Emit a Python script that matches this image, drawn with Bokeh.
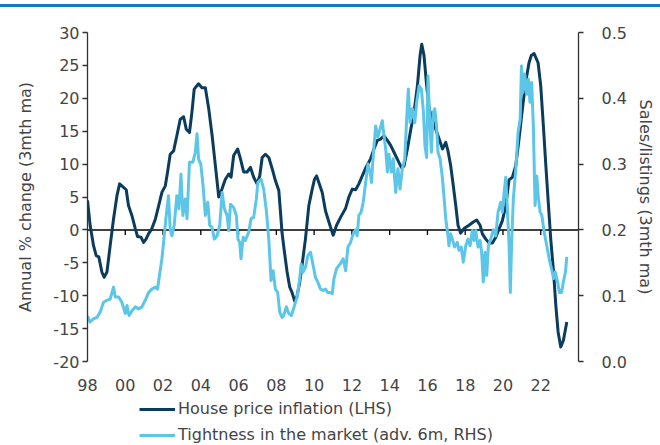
from bokeh.plotting import figure
from bokeh.models import (Range1d, LinearAxis, FixedTicker, Span, Legend,
                          LegendItem, Div)
from bokeh.layouts import column
from bokeh.embed import file_html
from bokeh.resources import INLINE

# ---------------- data ----------------
hpi_year = [1998.00, 1998.14, 1998.32, 1998.46, 1998.60, 1998.76, 1998.88, 1999.03, 1999.20, 1999.38,
            1999.56, 1999.70, 1999.82, 2000.05, 2000.17, 2000.35, 2000.53, 2000.65, 2000.83, 2000.97,
            2001.10, 2001.23, 2001.41, 2001.60, 2001.77, 2001.94, 2002.12, 2002.24, 2002.38, 2002.56,
            2002.73, 2002.91, 2003.09, 2003.23, 2003.40, 2003.53, 2003.65, 2003.88, 2004.06, 2004.24,
            2004.42, 2004.60, 2004.77, 2004.95, 2005.12, 2005.30, 2005.48, 2005.60, 2005.74, 2005.95,
            2006.10, 2006.27, 2006.45, 2006.63, 2006.80, 2006.98, 2007.12, 2007.25, 2007.42, 2007.60,
            2007.78, 2007.95, 2008.13, 2008.22, 2008.30, 2008.43, 2008.57, 2008.71, 2008.83, 2008.98,
            2009.10, 2009.24, 2009.36, 2009.54, 2009.72, 2009.90, 2010.02, 2010.13, 2010.25, 2010.43,
            2010.60, 2010.87, 2011.01, 2011.19, 2011.40, 2011.67, 2011.84, 2012.02, 2012.20, 2012.37,
            2012.55, 2012.73, 2012.99, 2013.17, 2013.35, 2013.52, 2013.70, 2013.88, 2014.06, 2014.23,
            2014.45, 2014.62, 2014.76, 2014.94, 2015.12, 2015.29, 2015.47, 2015.61, 2015.70, 2015.82,
            2015.96, 2016.09, 2016.27, 2016.44, 2016.62, 2016.80, 2016.97, 2017.09, 2017.23, 2017.37,
            2017.50, 2017.62, 2017.76, 2017.94, 2018.20, 2018.43, 2018.61, 2018.79, 2018.91, 2019.09,
            2019.27, 2019.44, 2019.62, 2019.80, 2019.97, 2020.15, 2020.32, 2020.50, 2020.68, 2020.85,
            2021.03, 2021.20, 2021.38, 2021.50, 2021.65, 2021.86, 2022.00, 2022.14, 2022.27, 2022.41,
            2022.53, 2022.68, 2022.80, 2022.92, 2023.06, 2023.20, 2023.38]
hpi_value = [4.5, 0.7, -2.4, -3.9, -4.1, -6.4, -7.2, -6.4, -2.4, 1.7,
             5.2, 7.0, 6.7, 6.1, 3.7, 2.2, 0.2, -1.0, -1.1, -1.9,
             -1.4, -0.6, 0.2, 1.7, 3.7, 5.7, 6.7, 8.8, 11.5, 12.0,
             14.3, 16.8, 17.2, 15.3, 14.8, 17.9, 21.4, 22.2, 21.6, 21.6,
             18.4, 14.3, 9.8, 5.0, 6.2, 7.7, 8.5, 8.0, 11.3, 12.3,
             10.8, 8.8, 8.8, 9.5, 8.0, 7.0, 8.2, 11.0, 11.5, 11.0,
             9.3, 7.5, 6.0, 2.7, -0.4, -3.4, -6.4, -8.7, -9.5, -10.9,
             -10.0, -7.9, -5.4, -1.4, 3.7, 6.2, 7.7, 8.2, 7.2, 5.7,
             2.9, 0.4, -0.8, 0.7, 1.9, 3.3, 5.0, 6.2, 6.1, 7.0,
             8.2, 9.4, 10.8, 12.3, 13.6, 13.8, 14.3, 13.6, 12.8, 11.8,
             10.5, 9.5, 9.7, 12.3, 15.3, 17.9, 21.9, 26.5, 28.2, 26.5,
             21.9, 18.4, 16.8, 15.3, 13.8, 12.3, 13.3, 12.0, 9.8, 6.7,
             3.7, 0.7, -0.5, 0.2, 0.7, 1.2, 1.5, 0.7, -0.6, -1.4,
             -2.0, -2.0, -1.1, 0.2, 1.4, 3.7, 7.6, 8.0, 9.8, 13.8,
             18.4, 22.4, 25.4, 26.5, 26.8, 25.4, 21.9, 15.8, 9.8, 3.7,
             -1.4, -6.4, -11.5, -15.5, -17.8, -16.8, -14.0]

tight_year = [1998.00, 1998.14, 1998.32, 1998.50, 1998.67, 1998.85, 1999.03, 1999.20, 1999.38, 1999.47,
              1999.65, 1999.82, 2000.00, 2000.09, 2000.20, 2000.38, 2000.53, 2000.70, 2000.88, 2001.06,
              2001.24, 2001.41, 2001.59, 2001.71, 2001.82, 2001.94, 2002.03, 2002.15, 2002.29, 2002.38,
              2002.47, 2002.59, 2002.73, 2002.84, 2002.95, 2003.05, 2003.18, 2003.27, 2003.40, 2003.58,
              2003.71, 2003.80, 2003.88, 2004.00, 2004.12, 2004.24, 2004.37, 2004.47, 2004.59, 2004.72,
              2004.86, 2005.00, 2005.13, 2005.25, 2005.39, 2005.48, 2005.57, 2005.74, 2005.88, 2005.97,
              2006.06, 2006.13, 2006.24, 2006.36, 2006.54, 2006.66, 2006.80, 2006.94, 2007.02, 2007.19,
              2007.33, 2007.48, 2007.60, 2007.72, 2007.83, 2007.95, 2008.07, 2008.18, 2008.30, 2008.39,
              2008.53, 2008.66, 2008.80, 2008.96, 2009.10, 2009.24, 2009.31, 2009.42, 2009.54, 2009.67,
              2009.81, 2009.95, 2010.07, 2010.19, 2010.34, 2010.48, 2010.60, 2010.72, 2010.83, 2010.96,
              2011.05, 2011.19, 2011.37, 2011.54, 2011.67, 2011.79, 2011.93, 2012.07, 2012.20, 2012.28,
              2012.37, 2012.49, 2012.60, 2012.73, 2012.85, 2012.96, 2013.04, 2013.13, 2013.26, 2013.38,
              2013.49, 2013.61, 2013.70, 2013.79, 2013.88, 2013.96, 2014.09, 2014.19, 2014.32, 2014.44,
              2014.55, 2014.67, 2014.80, 2014.90, 2014.99, 2015.08, 2015.20, 2015.33, 2015.43, 2015.56,
              2015.68, 2015.79, 2015.87, 2015.96, 2016.03, 2016.12, 2016.21, 2016.30, 2016.39, 2016.48,
              2016.56, 2016.67, 2016.79, 2016.88, 2016.97, 2017.09, 2017.14, 2017.23, 2017.32, 2017.44,
              2017.58, 2017.67, 2017.79, 2017.90, 2018.03, 2018.15, 2018.26, 2018.38, 2018.47, 2018.56,
              2018.68, 2018.79, 2018.87, 2018.96, 2019.05, 2019.14, 2019.23, 2019.35, 2019.49, 2019.62,
              2019.74, 2019.88, 2019.97, 2020.06, 2020.15, 2020.24, 2020.32, 2020.39, 2020.46, 2020.55,
              2020.68, 2020.80, 2020.91, 2020.98, 2021.06, 2021.15, 2021.26, 2021.35, 2021.43, 2021.52,
              2021.61, 2021.70, 2021.79, 2021.88, 2021.97, 2022.06, 2022.18, 2022.32, 2022.45, 2022.57,
              2022.68, 2022.77, 2022.89, 2022.99, 2023.10, 2023.20, 2023.31, 2023.38]
tight_value = [0.069, 0.060, 0.065, 0.067, 0.075, 0.090, 0.093, 0.095, 0.113, 0.098,
               0.098, 0.090, 0.073, 0.085, 0.070, 0.078, 0.083, 0.080, 0.083, 0.093,
               0.105, 0.110, 0.113, 0.110, 0.133, 0.156, 0.181, 0.217, 0.252, 0.200,
               0.191, 0.207, 0.252, 0.232, 0.285, 0.222, 0.247, 0.217, 0.303, 0.303,
               0.318, 0.346, 0.308, 0.300, 0.267, 0.222, 0.242, 0.207, 0.204, 0.186,
               0.191, 0.207, 0.257, 0.232, 0.222, 0.199, 0.239, 0.234, 0.222, 0.186,
               0.181, 0.156, 0.189, 0.184, 0.197, 0.217, 0.219, 0.247, 0.272, 0.277,
               0.262, 0.227, 0.186, 0.123, 0.138, 0.110, 0.105, 0.075, 0.067, 0.070,
               0.083, 0.073, 0.070, 0.085, 0.098, 0.126, 0.148, 0.136, 0.143, 0.161,
               0.166, 0.146, 0.128, 0.121, 0.110, 0.108, 0.110, 0.105, 0.105, 0.103,
               0.126, 0.141, 0.148, 0.156, 0.138, 0.174, 0.181, 0.194, 0.200, 0.191,
               0.222, 0.227, 0.242, 0.272, 0.300, 0.288, 0.272, 0.313, 0.358, 0.341,
               0.353, 0.366, 0.343, 0.323, 0.288, 0.315, 0.288, 0.308, 0.257, 0.293,
               0.262, 0.293, 0.308, 0.368, 0.414, 0.363, 0.384, 0.363, 0.394, 0.419,
               0.414, 0.379, 0.328, 0.310, 0.434, 0.368, 0.318, 0.379, 0.384, 0.358,
               0.318, 0.308, 0.280, 0.250, 0.217, 0.191, 0.176, 0.194, 0.186, 0.174,
               0.181, 0.169, 0.174, 0.151, 0.176, 0.186, 0.176, 0.199, 0.184, 0.199,
               0.174, 0.184, 0.166, 0.121, 0.166, 0.131, 0.176, 0.186, 0.200, 0.191,
               0.227, 0.242, 0.227, 0.257, 0.280, 0.227, 0.181, 0.105, 0.181, 0.247,
               0.293, 0.348, 0.368, 0.449, 0.409, 0.437, 0.406, 0.429, 0.394, 0.424,
               0.358, 0.237, 0.282, 0.247, 0.227, 0.222, 0.197, 0.176, 0.156, 0.141,
               0.126, 0.136, 0.121, 0.105, 0.105, 0.121, 0.136, 0.159]

x_tick_years = [1998, 2000, 2002, 2004, 2006, 2008, 2010, 2012, 2014, 2016, 2018, 2020, 2022]
x_tick_labels = ["98", "00", "02", "04", "06", "08", "10", "12", "14", "16", "18", "20", "22"]
lhs_ticks = [-20, -15, -10, -5, 0, 5, 10, 15, 20, 25, 30]
lhs_labels = ["-20", "-15", "-10", "-5", "0", "5", "10", "15", "20", "25", "30"]
rhs_ticks = [0.0, 0.1, 0.2, 0.3, 0.4, 0.5]
rhs_labels = ["0.0", "0.1", "0.2", "0.3", "0.4", "0.5"]

series_names = ["House price inflation (LHS)", "Tightness in the market (adv. 6m, RHS)"]
lhs_title = "Annual % change (3mth ma)"
rhs_title = "Sales/listings (3mth ma)"

# ---------------- styling ----------------
FONT = "DejaVu Sans"
TXT = "#444444"
AX = "#333333"
DARK = "#0b3c5d"
LIGHT = "#5cc6e8"
TOPBAR = "#0e7cc0"
W = 660
NAN = float("nan")

X0, X1 = 1998, 2024
Y0, Y1 = -20, 30
FRAME_H = 329

# ---- thin blue rule across the top ----
bar = Div(text="", width=W, height=3, margin=(4, 0, 0, 0),
          styles={"background-color": TOPBAR})

# ---- main chart ----
p = figure(width=W, height=391, output_backend="svg", toolbar_location=None,
           x_range=Range1d(X0, X1), y_range=Range1d(Y0, Y1),
           min_border_left=87, min_border_right=82, min_border_top=25,
           min_border_bottom=37, frame_align=False, margin=(0, 0, 0, 0))
p.extra_y_ranges = {"rhs": Range1d(0.0, 0.5)}
p.grid.visible = False
p.outline_line_color = None

# zero line
p.add_layout(Span(location=0, dimension="width", line_color="black",
                  line_width=1.5, level="underlay"))

# small ticks hanging from the zero line
tick_len = 5 * (Y1 - Y0) / FRAME_H
inner_ticks = [t for t in x_tick_years if t > X0]
p.segment(x0=inner_ticks, y0=[0] * len(inner_ticks), x1=inner_ticks,
          y1=[-tick_len] * len(inner_ticks), line_color="black", line_width=1.3)

p.line(hpi_year, hpi_value, line_color=DARK, line_width=3, line_join="round")
p.line(tight_year, tight_value, y_range_name="rhs", line_color=LIGHT,
       line_width=3, line_join="round")

# bottom axis (labels only)
xa = p.xaxis[0]
xa.ticker = FixedTicker(ticks=x_tick_years)
xa.major_label_overrides = dict(zip(x_tick_years, x_tick_labels))
xa.axis_line_color = None
xa.major_tick_line_color = None
xa.minor_tick_line_color = None
xa.major_tick_out = 0
xa.major_tick_in = 0
xa.major_label_standoff = 17
xa.major_label_text_font = FONT
xa.major_label_text_font_size = "16px"
xa.major_label_text_color = TXT

# left axis
ya = p.yaxis[0]
ya.ticker = FixedTicker(ticks=lhs_ticks)
ya.major_label_overrides = dict(zip(lhs_ticks, lhs_labels))
ya.axis_line_color = AX
ya.axis_line_width = 1.3
ya.major_tick_line_color = AX
ya.major_tick_line_width = 1.3
ya.major_tick_out = 5
ya.major_tick_in = 0
ya.minor_tick_line_color = None
ya.major_label_standoff = 3
ya.major_label_text_font = FONT
ya.major_label_text_font_size = "16px"
ya.major_label_text_color = TXT
ya.axis_label = lhs_title
ya.axis_label_standoff = 15
ya.axis_label_text_font = FONT
ya.axis_label_text_font_size = "16px"
ya.axis_label_text_font_style = "normal"
ya.axis_label_text_color = TXT

# right axis
ra = LinearAxis(y_range_name="rhs", ticker=FixedTicker(ticks=rhs_ticks))
ra.major_label_overrides = dict(zip(rhs_ticks, rhs_labels))
ra.axis_line_color = AX
ra.axis_line_width = 1.3
ra.major_tick_line_color = AX
ra.major_tick_line_width = 1.3
ra.major_tick_out = 5
ra.major_tick_in = 0
ra.minor_tick_line_color = None
ra.major_label_standoff = 18
ra.major_label_text_font = FONT
ra.major_label_text_font_size = "16px"
ra.major_label_text_color = TXT
ra.axis_label = rhs_title
ra.axis_label_standoff = 6
ra.axis_label_text_font = FONT
ra.axis_label_text_font_size = "16px"
ra.axis_label_text_font_style = "normal"
ra.axis_label_text_color = TXT
p.add_layout(ra, "right")

# ---- legend strip below the chart ----
lg = figure(width=W, height=46, output_backend="svg", toolbar_location=None,
            x_axis_location=None, y_axis_location=None,
            x_range=Range1d(0, 1), y_range=Range1d(0, 1),
            min_border=0, frame_align=False, margin=(0, 0, 0, 0))
lg.grid.visible = False
lg.outline_line_color = None
k_dark = lg.line(x=[NAN], y=[NAN], line_color=DARK, line_width=3)
k_light = lg.line(x=[NAN], y=[NAN], line_color=LIGHT, line_width=3)
legend = Legend(items=[LegendItem(label=series_names[0], renderers=[k_dark]),
                       LegendItem(label=series_names[1], renderers=[k_light])],
                location=(139, 0), orientation="vertical", padding=0, margin=0,
                spacing=7, glyph_width=36, glyph_height=18, label_height=18,
                label_standoff=3, border_line_color=None,
                background_fill_alpha=0, label_text_font=FONT,
                label_text_font_size="16px", label_text_color=TXT)
lg.add_layout(legend, "center")

layout = column(bar, p, lg, spacing=0)

open("out.html", "w").write(file_html(layout, INLINE))
